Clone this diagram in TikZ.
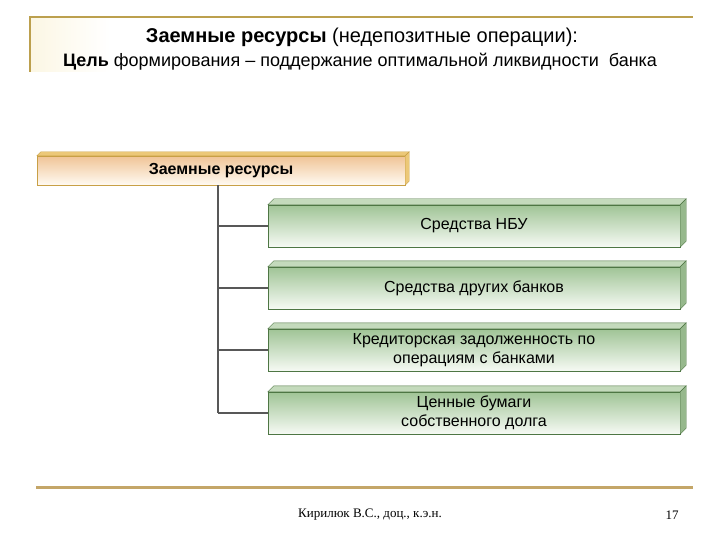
\documentclass[tikz,border=0pt]{standalone}
\usepackage{fontspec}
\setmainfont{Liberation Sans}
\newfontfamily\footfont{Liberation Serif}
\usetikzlibrary{positioning}

\definecolor{goldline}{RGB}{188,160,78}
\definecolor{tanline}{RGB}{196,166,104}
\definecolor{cream}{RGB}{252,247,228}
\definecolor{stemgray}{RGB}{88,88,88}
\definecolor{orangetop}{RGB}{240,196,150}
\definecolor{orangebot}{RGB}{255,250,242}
\definecolor{orangeedge}{RGB}{200,160,70}
\definecolor{orangelid}{RGB}{236,200,120}
\definecolor{greentop}{RGB}{160,196,150}
\definecolor{greenbot}{RGB}{246,250,244}
\definecolor{greenedge}{RGB}{78,118,68}
\definecolor{greenlid}{RGB}{196,218,188}
\definecolor{greenside}{RGB}{150,184,140}

\begin{document}
\begin{tikzpicture}[x=1pt,y=-1pt,
  headbox/.style={draw=orangeedge, top color=orangetop, bottom color=orangebot,
    minimum width=368pt, minimum height=29pt, inner sep=0pt,
    font=\fontsize{16}{19}\selectfont\bfseries},
  itembox/.style={draw=greenedge, top color=greentop, bottom color=greenbot,
    minimum width=412pt, minimum height=42pt, inner sep=0pt, align=center,
    font=\fontsize{16}{19}\selectfont}]
\useasboundingbox (0,0) rectangle (720,540);

\shade[left color=cream, right color=white] (31,18) rectangle (110,72);
\draw[goldline, line width=2pt] (30,72) -- (30,17) -- (693,17);
\node[font=\fontsize{20}{23}\selectfont] (title1) at (362,37)
  {\textbf{Заемные ресурсы} (недепозитные операции):};
\node[font=\fontsize{18}{21}\selectfont] (title2) at (360,62)
  {\textbf{Цель} формирования – поддержание оптимальной ликвидности \ банка};

\node[headbox] (res) at (221,170.5) {Заемные ресурсы};
\fill[orangelid, draw=orangeedge] (res.north west) -- ([xshift=4pt,yshift=4pt]res.north west)
  -- ([xshift=4pt,yshift=4pt]res.north east) -- (res.north east) -- cycle;
\fill[orangelid, draw=orangeedge] (res.north east) -- ([xshift=4pt,yshift=4pt]res.north east)
  -- ([xshift=4pt,yshift=4pt]res.south east) -- (res.south east) -- cycle;

\node[itembox] (nbu) at (474,226) {Средства НБУ};
\node[itembox] (banks) at (474,288) {Средства других банков};
\node[itembox] (credit) at (474,350) {Кредиторская задолженность по\\операциям с банками};
\node[itembox] (bonds) at (474,413) {Ценные бумаги\\собственного долга};

\foreach \b in {nbu,banks,credit,bonds}{
  \filldraw[fill=greenlid, draw=greenedge] (\b.north west) -- ([xshift=6pt,yshift=6pt]\b.north west)
    -- ([xshift=6pt,yshift=6pt]\b.north east) -- (\b.north east) -- cycle;
  \filldraw[fill=greenside, draw=greenedge] (\b.north east) -- ([xshift=6pt,yshift=6pt]\b.north east)
    -- ([xshift=6pt,yshift=6pt]\b.south east) -- (\b.south east) -- cycle;
}

\coordinate (stem) at (218,0);
\draw[stemgray, line width=1.6pt] (res.south -| stem) -- (bonds.west -| stem);
\foreach \b in {nbu,banks,credit,bonds}
  \draw[stemgray, line width=1.6pt] (\b.west -| stem) -- (\b.west);

\draw[tanline, line width=3pt] (36,487) -- (693,487);
\node[font=\footfont\fontsize{13}{15}\selectfont] (author) at (370,515) {Кирилюк В.С., доц., к.э.н.};
\node[font=\footfont\fontsize{13}{15}\selectfont] (page) at (672,515) {17};
\end{tikzpicture}
\end{document}
